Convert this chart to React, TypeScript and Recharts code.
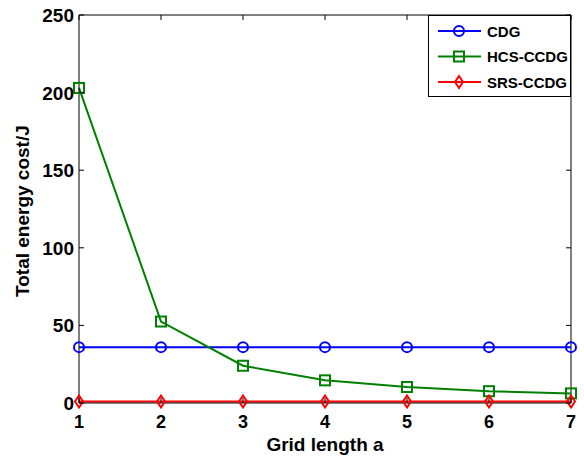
import React from 'react';
import { LineChart, Line, XAxis, YAxis, ReferenceLine } from 'recharts';

const gridLengths = [1, 2, 3, 4, 5, 6, 7];
const cdgCost = [36, 36, 36, 36, 36, 36, 36];
const hcsCost = [203, 52.5, 24, 14.6, 10.3, 7.6, 6.2];
const srsCost = [1, 1, 1, 1, 1, 1, 1];
const yTicks = [0, 50, 100, 150, 200, 250];

const data = gridLengths.map((a, i) => ({ a, cdg: cdgCost[i], hcs: hcsCost[i], srs: srsCost[i] }));

const W = 584;
const H = 456;
const PL = 79, PR = 571, PT = 15, PB = 403;
const font = 'Arial, "Liberation Sans", Helvetica, sans-serif';

const series = [
    { key: 'cdg', name: 'CDG', color: '#0000ff', shape: 'circle' },
    { key: 'hcs', name: 'HCS-CCDG', color: '#008000', shape: 'square' },
    { key: 'srs', name: 'SRS-CCDG', color: '#ff0000', shape: 'diamond' },
];

const Marker = ({ shape, cx, cy, color }: { shape: string; cx: number; cy: number; color: string }) => {
    if (shape === 'circle') return <circle cx={cx} cy={cy} r={5} fill="none" stroke={color} strokeWidth={2} />;
    if (shape === 'square') return <rect x={cx - 5} y={cy - 5} width={10} height={10} fill="none" stroke={color} strokeWidth={2} />;
    return <path d={`M${cx},${cy - 6}L${cx + 4},${cy}L${cx},${cy + 6}L${cx - 4},${cy}Z`} fill="none" stroke={color} strokeWidth={2} />;
};

const XTick = (props: any) => {
    const { x, payload } = props;
    return (
        <g>
            <line x1={x} x2={x} y1={PB} y2={PB - 5} stroke="#000" />
            <line x1={x} x2={x} y1={PT} y2={PT + 5} stroke="#000" />
            <text x={x} y={PB + 25} textAnchor="middle" fontSize={18} fontWeight="bold" fontFamily={font} fill="#000">
                {payload.value}
            </text>
        </g>
    );
};

const YTick = (props: any) => {
    const { y, payload } = props;
    return (
        <g>
            <line x1={PL} x2={PL + 5} y1={y} y2={y} stroke="#000" />
            <line x1={PR} x2={PR - 5} y1={y} y2={y} stroke="#000" />
            <text x={PL - 5} y={y + 7} textAnchor="end" fontSize={19} fontWeight="bold" fontFamily={font} fill="#000">
                {payload.value}
            </text>
        </g>
    );
};

const LegendBox = () => (
    <div style={{ position: 'absolute', left: PR - 143, top: PT, width: 143, height: 82, border: '1px solid #000', background: '#fff', boxSizing: 'border-box' }}>
        <svg width={141} height={80} style={{ display: 'block' }}>
            {series.map((s, i) => {
                const cy = 15 + i * 25.5;
                return (
                    <g key={s.key}>
                        <line x1={9} x2={52} y1={cy} y2={cy} stroke={s.color} strokeWidth={2} />
                        <Marker shape={s.shape} cx={30} cy={cy} color={s.color} />
                        <text x={58} y={cy + 5.5} fontSize={15} fontWeight="bold" fontFamily={font} fill="#000">
                            {s.name}
                        </text>
                    </g>
                );
            })}
        </svg>
    </div>
);

export default function App() {
    return (
        <div style={{ position: 'absolute', left: 0, top: 0, width: W, height: H, background: '#fff' }}>
            <LineChart width={W} height={H} data={data} margin={{ top: PT, right: W - PR, bottom: 0, left: 0 }}>
                <XAxis
                    dataKey="a"
                    type="number"
                    domain={[1, 7]}
                    ticks={gridLengths}
                    height={H - PB}
                    axisLine={{ stroke: '#000' }}
                    tickLine={false}
                    tick={<XTick />}
                    label={{ value: 'Grid length a', position: 'insideBottom', offset: 5, fontSize: 19, fontWeight: 'bold', fontFamily: font, fill: '#000' }}
                />
                <YAxis
                    type="number"
                    domain={[0, 250]}
                    ticks={yTicks}
                    width={PL}
                    axisLine={{ stroke: '#000' }}
                    tickLine={false}
                    tick={<YTick />}
                    label={{ value: 'Total energy cost/J', angle: -90, position: 'insideLeft', offset: 22, dy: 88, fontSize: 19, fontWeight: 'bold', fontFamily: font, fill: '#000' }}
                />
                <ReferenceLine y={250} stroke="#000" />
                <ReferenceLine x={7} stroke="#000" />
                {series.map((s) => (
                    <Line
                        key={s.key}
                        dataKey={s.key}
                        name={s.name}
                        stroke={s.color}
                        strokeWidth={2}
                        isAnimationActive={false}
                        dot={(p: any) => <Marker key={`${s.key}-${p.index}`} shape={s.shape} cx={p.cx} cy={p.cy} color={s.color} />}
                        activeDot={false}
                    />
                ))}
            </LineChart>
            <LegendBox />
        </div>
    );
}
